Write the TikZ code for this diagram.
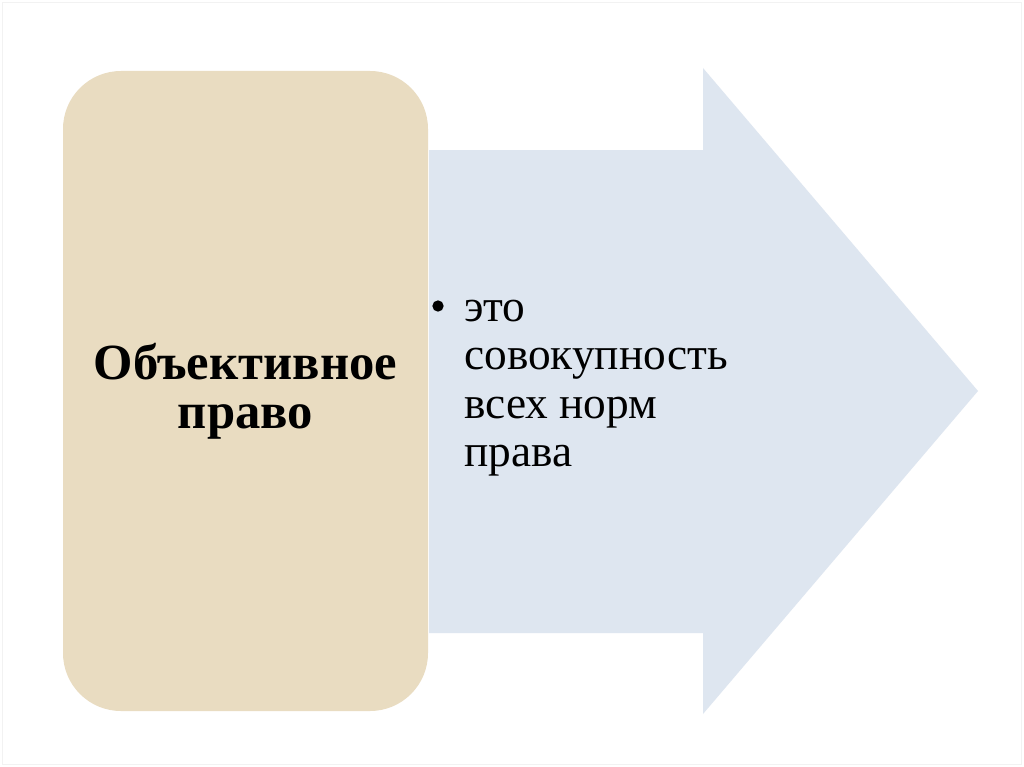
\documentclass[tikz,border=0pt]{standalone}
\usepackage{fontspec}
\setmainfont{Liberation Serif}
\definecolor{tanfill}{HTML}{E9DCC1}
\definecolor{arrowfill}{HTML}{DEE6F0}
\definecolor{framecol}{HTML}{F2F2F2}
\begin{document}
\begin{tikzpicture}[x=0.75pt,y=-0.75pt,
  tanbox/.style={fill=tanfill,draw=none,rounded corners=43.5pt,minimum width=273.75pt,minimum height=480pt,inner sep=0pt,align=center,font=\fontsize{38}{36.75}\selectfont\bfseries},
  bodytext/.style={align=left,inner sep=0pt,font=\fontsize{34}{36.2}\selectfont},
  bulletdot/.style={circle,fill=black,inner sep=0pt,minimum size=8.5pt}]
\useasboundingbox (0,0) rectangle (1024,767);
\fill[white] (0,0) rectangle (1024,767);
\draw[framecol,line width=0.75pt] (2.5,2.5) rectangle (1021.5,764.5);
% arrow
\coordinate (s1) at (429,150);
\coordinate (h1) at (703,150);
\coordinate (h2) at (703,68);
\coordinate (tip) at (978,391);
\coordinate (h3) at (703,714);
\coordinate (h4) at (703,633);
\coordinate (s2) at (429,633);
\fill[arrowfill] (s1) -- (h1) -- (h2) -- (tip) -- (h3) -- (h4) -- (s2) -- cycle;
% tan box
\node[tanbox] (obj) at (245.5,391) {Объективное\\право};
% bullet text
\node[bulletdot] (bul) at (438,306) {};
\node[bodytext,anchor=north west] (txt) at (464,300) {это\\совокупность\\всех норм\\права};
\end{tikzpicture}
\end{document}
